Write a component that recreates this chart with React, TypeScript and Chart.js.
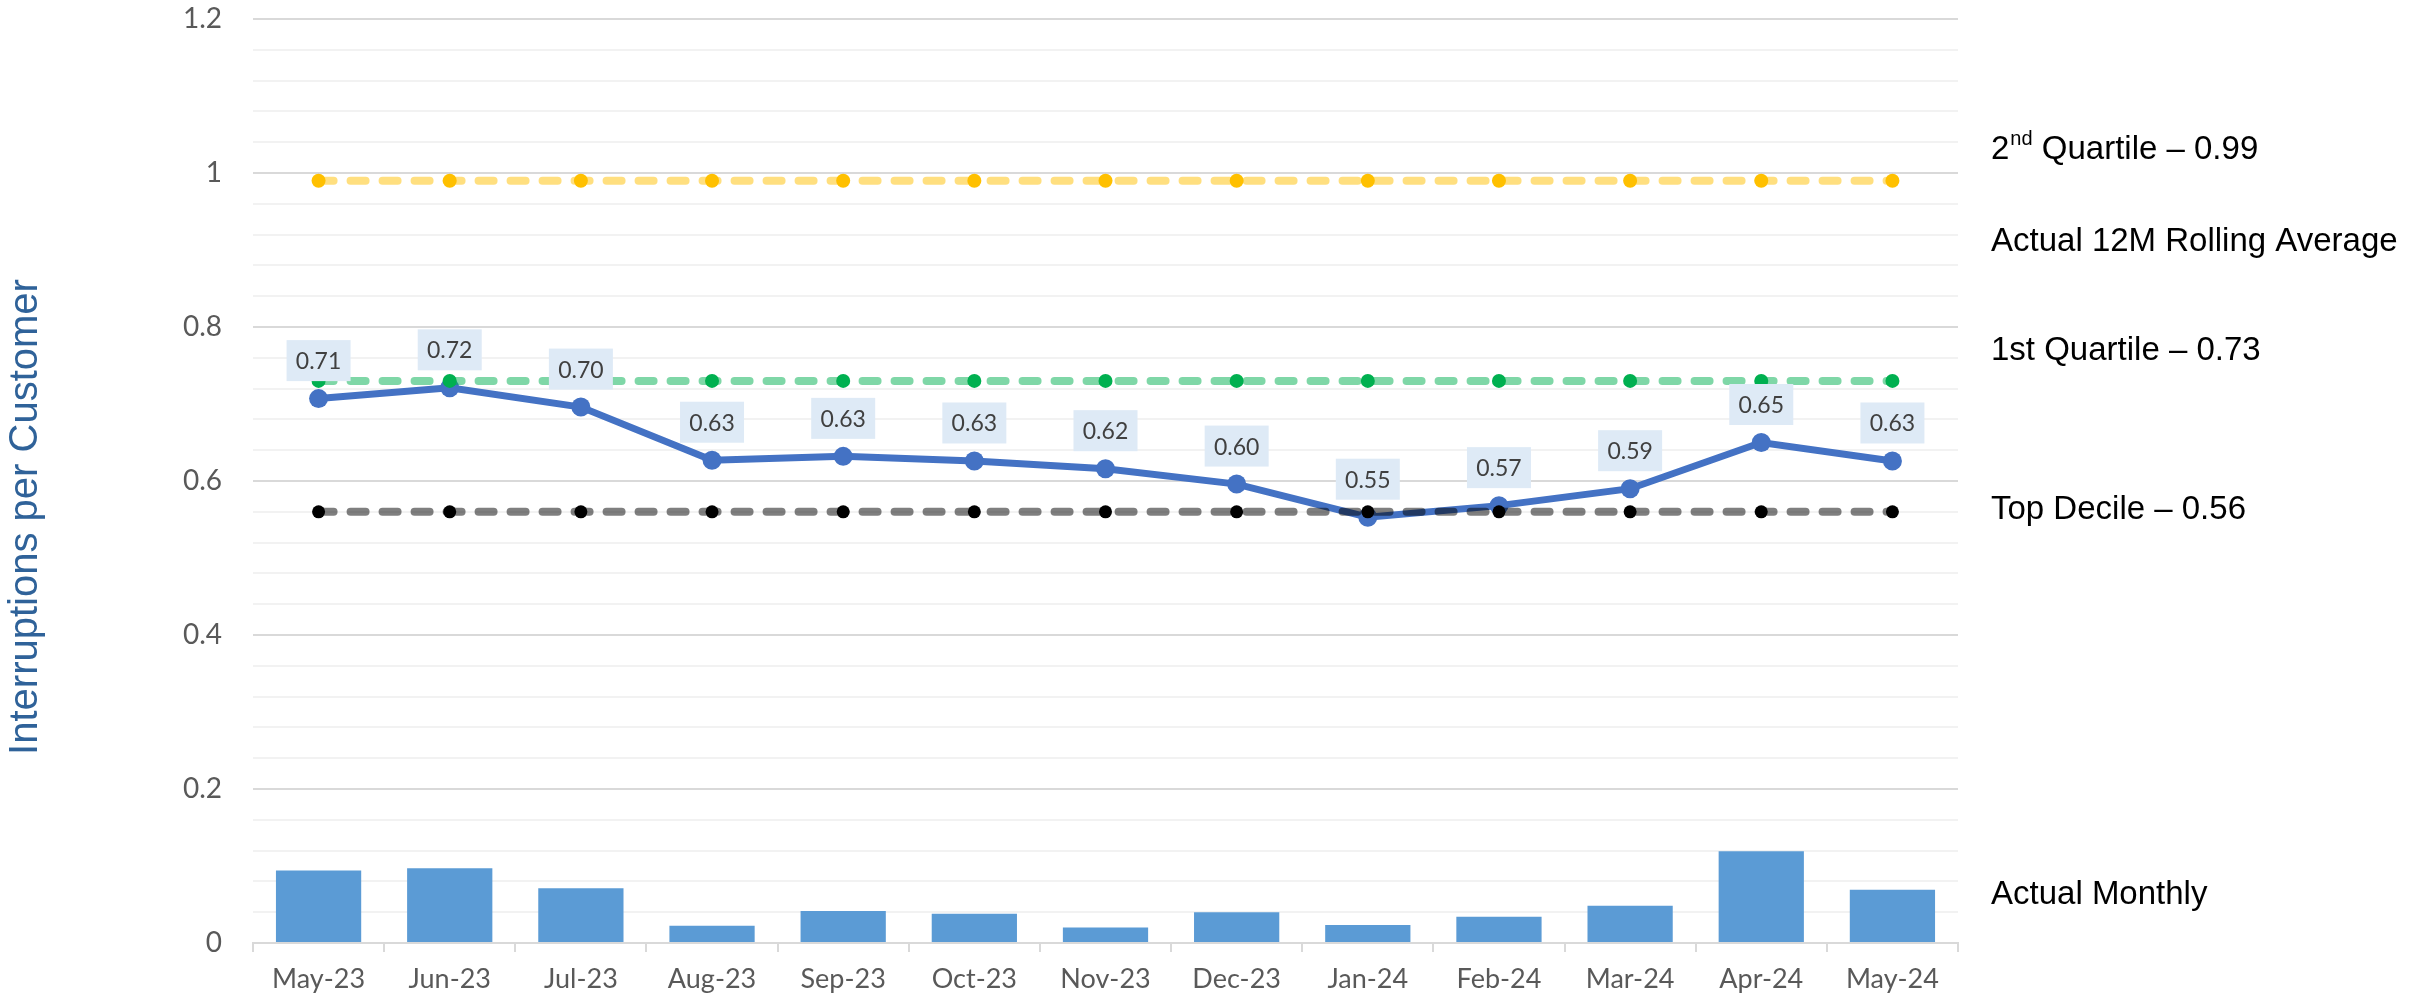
import React, { useEffect, useRef } from "react";
import { Chart, registerables } from "chart.js";

Chart.register(...registerables);

const months = ["May-23", "Jun-23", "Jul-23", "Aug-23", "Sep-23", "Oct-23", "Nov-23", "Dec-23", "Jan-24", "Feb-24", "Mar-24", "Apr-24", "May-24"];
const actualMonthly = [0.094, 0.097, 0.071, 0.0225, 0.0415, 0.038, 0.020, 0.040, 0.0235, 0.034, 0.0485, 0.119, 0.069];
const rolling12M = [0.707, 0.721, 0.696, 0.627, 0.632, 0.626, 0.616, 0.596, 0.553, 0.568, 0.590, 0.650, 0.626];
const secondQuartile = [0.99, 0.99, 0.99, 0.99, 0.99, 0.99, 0.99, 0.99, 0.99, 0.99, 0.99, 0.99, 0.99];
const firstQuartile = [0.73, 0.73, 0.73, 0.73, 0.73, 0.73, 0.73, 0.73, 0.73, 0.73, 0.73, 0.73, 0.73];
const topDecile = [0.56, 0.56, 0.56, 0.56, 0.56, 0.56, 0.56, 0.56, 0.56, 0.56, 0.56, 0.56, 0.56];
const seriesNames = ["Actual Monthly", "Actual 12M Rolling Average", "2nd Quartile", "1st Quartile", "Top Decile"];
const yMajorTicks = [0, 0.2, 0.4, 0.6, 0.8, 1, 1.2];
const yTitle = "Interruptions per Customer";

const isMajor = (v: number) => yMajorTicks.some((m) => Math.abs(m - v) < 1e-6);

const yTitlePlugin = {
  id: "yTitle",
  afterDraw(chart: any) {
    const ctx = chart.ctx;
    ctx.save();
    ctx.translate(26, 517);
    ctx.rotate(-Math.PI / 2);
    ctx.font = '40px "Liberation Sans", Arial, sans-serif';
    ctx.fillStyle = "#2F6299";
    ctx.textAlign = "center";
    ctx.textBaseline = "middle";
    ctx.fillText(yTitle, 0, 0);
    ctx.restore();
  },
};

const sideLabelsPlugin = {
  id: "sideLabels",
  afterDraw(chart: any) {
    const ctx = chart.ctx;
    const y = chart.scales.y;
    const x0 = 1991;
    ctx.save();
    ctx.fillStyle = "#000000";
    ctx.textBaseline = "middle";
    ctx.textAlign = "left";
    const big = '33px "Liberation Sans", Arial, sans-serif';
    const small = '20px "Liberation Sans", Arial, sans-serif';
    const py = y.getPixelForValue(1.03);
    ctx.font = big;
    ctx.fillText("2", x0, py);
    const w = ctx.measureText("2").width;
    ctx.font = small;
    ctx.fillText("nd", x0 + w + 1, py - 10);
    const w2 = ctx.measureText("nd").width;
    ctx.font = big;
    ctx.fillText(" Quartile \u2013 " + secondQuartile[0].toFixed(2), x0 + w + w2 + 1, py);
    const entries: [string, number][] = [
      [seriesNames[1], 0.91],
      [seriesNames[3] + " \u2013 " + firstQuartile[0].toFixed(2), 0.769],
      [seriesNames[4] + " \u2013 " + topDecile[0].toFixed(2), 0.562],
      [seriesNames[0], 0.062],
    ];
    for (const [t, v] of entries) {
      ctx.fillText(t, x0, y.getPixelForValue(v));
    }
    ctx.restore();
  },
};

const dataLabelPlugin = {
  id: "lineLabels",
  afterDatasetsDraw(chart: any) {
    const ctx = chart.ctx;
    const meta = chart.getDatasetMeta(1);
    ctx.save();
    ctx.font = '23px Lato, "Open Sans", sans-serif';
    ctx.textAlign = "center";
    ctx.textBaseline = "middle";
    meta.data.forEach((pt: any, i: number) => {
      const cx = pt.x;
      const cy = pt.y - 38;
      const bw = 64;
      const bh = 41;
      ctx.fillStyle = "#DEEAF6";
      ctx.fillRect(cx - bw / 2, cy - bh / 2, bw, bh);
      ctx.fillStyle = "#404040";
      ctx.fillText(rolling12M[i].toFixed(2), cx, cy + 1);
    });
    ctx.restore();
  },
};

export default function App() {
  const ref = useRef<HTMLCanvasElement | null>(null);
  useEffect(() => {
    if (!ref.current) return;
    const refLine = (label: string, data: number[], line: string, dot: string, r: number, order: number) => ({
      type: "line" as const,
      label,
      data,
      borderColor: line,
      borderWidth: 8,
      borderDash: [15, 17],
      borderCapStyle: "round" as const,
      pointRadius: r,
      pointBackgroundColor: dot,
      pointBorderWidth: 0,
      order,
    });
    const chart = new Chart(ref.current, {
      type: "bar",
      data: {
        labels: months,
        datasets: [
          {
            type: "bar",
            label: seriesNames[0],
            data: actualMonthly,
            backgroundColor: "#5B9BD5",
            barPercentage: 0.65,
            categoryPercentage: 1,
            order: 10,
          } as any,
          {
            type: "line",
            label: seriesNames[1],
            data: rolling12M,
            borderColor: "#4472C4",
            backgroundColor: "#4472C4",
            borderWidth: 7,
            pointRadius: 9.5,
            pointBackgroundColor: "#4472C4",
            pointBorderWidth: 0,
            tension: 0,
            order: 6,
          },
          refLine(seriesNames[2], secondQuartile, "rgba(255,192,0,0.5)", "#FFC000", 7, 4),
          refLine(seriesNames[3], firstQuartile, "rgba(0,176,80,0.5)", "#00B050", 7, 3),
          refLine(seriesNames[4], topDecile, "rgba(0,0,0,0.5)", "#000000", 6.5, 2),
        ],
      },
      options: {
        responsive: false,
        animation: false,
        layout: { padding: { left: 0, right: 475, top: 19, bottom: 0 } },
        plugins: {
          legend: { display: false },
          tooltip: { enabled: false },
        },
        scales: {
          x: {
            offset: true,
            grid: {
              display: true,
              drawOnChartArea: false,
              drawTicks: true,
              tickLength: 9,
              color: "#D9D9D9",
              lineWidth: 2,
              offset: true,
            },
            border: { display: true, color: "#D9D9D9", width: 2 },
            ticks: {
              color: "#595959",
              font: { family: 'Lato, "Open Sans", sans-serif', size: 27 },
              padding: 11,
              maxRotation: 0,
              autoSkip: false,
            },
            afterFit(scale: any) {
              scale.height = 57;
            },
          },
          y: {
            min: 0,
            max: 1.2,
            border: { display: false },
            grid: {
              drawTicks: false,
              color: (c: any) => (isMajor(c.tick.value) ? "#D9D9D9" : "#F2F2F2"),
              lineWidth: 2,
            },
            ticks: {
              stepSize: 0.04,
              autoSkip: false,
              padding: 31,
              color: "#595959",
              font: { family: 'Lato, "Open Sans", sans-serif', size: 28 },
              callback: (v: any) => {
                const n = Number(v);
                return isMajor(n) ? String(Math.round(n * 10) / 10) : "";
              },
            },
            afterFit(scale: any) {
              scale.width = 253;
              scale.paddingTop = 0;
              scale.paddingBottom = 0;
            },
          },
        },
      },
      plugins: [dataLabelPlugin, sideLabelsPlugin, yTitlePlugin],
    });
    return () => chart.destroy();
  }, []);
  return (
    <div style={{ position: "fixed", left: 0, top: 0, width: 2433, height: 1000, background: "#FFFFFF" }}>
      <canvas ref={ref} width={2433} height={1000} style={{ display: "block" }} />
    </div>
  );
}
